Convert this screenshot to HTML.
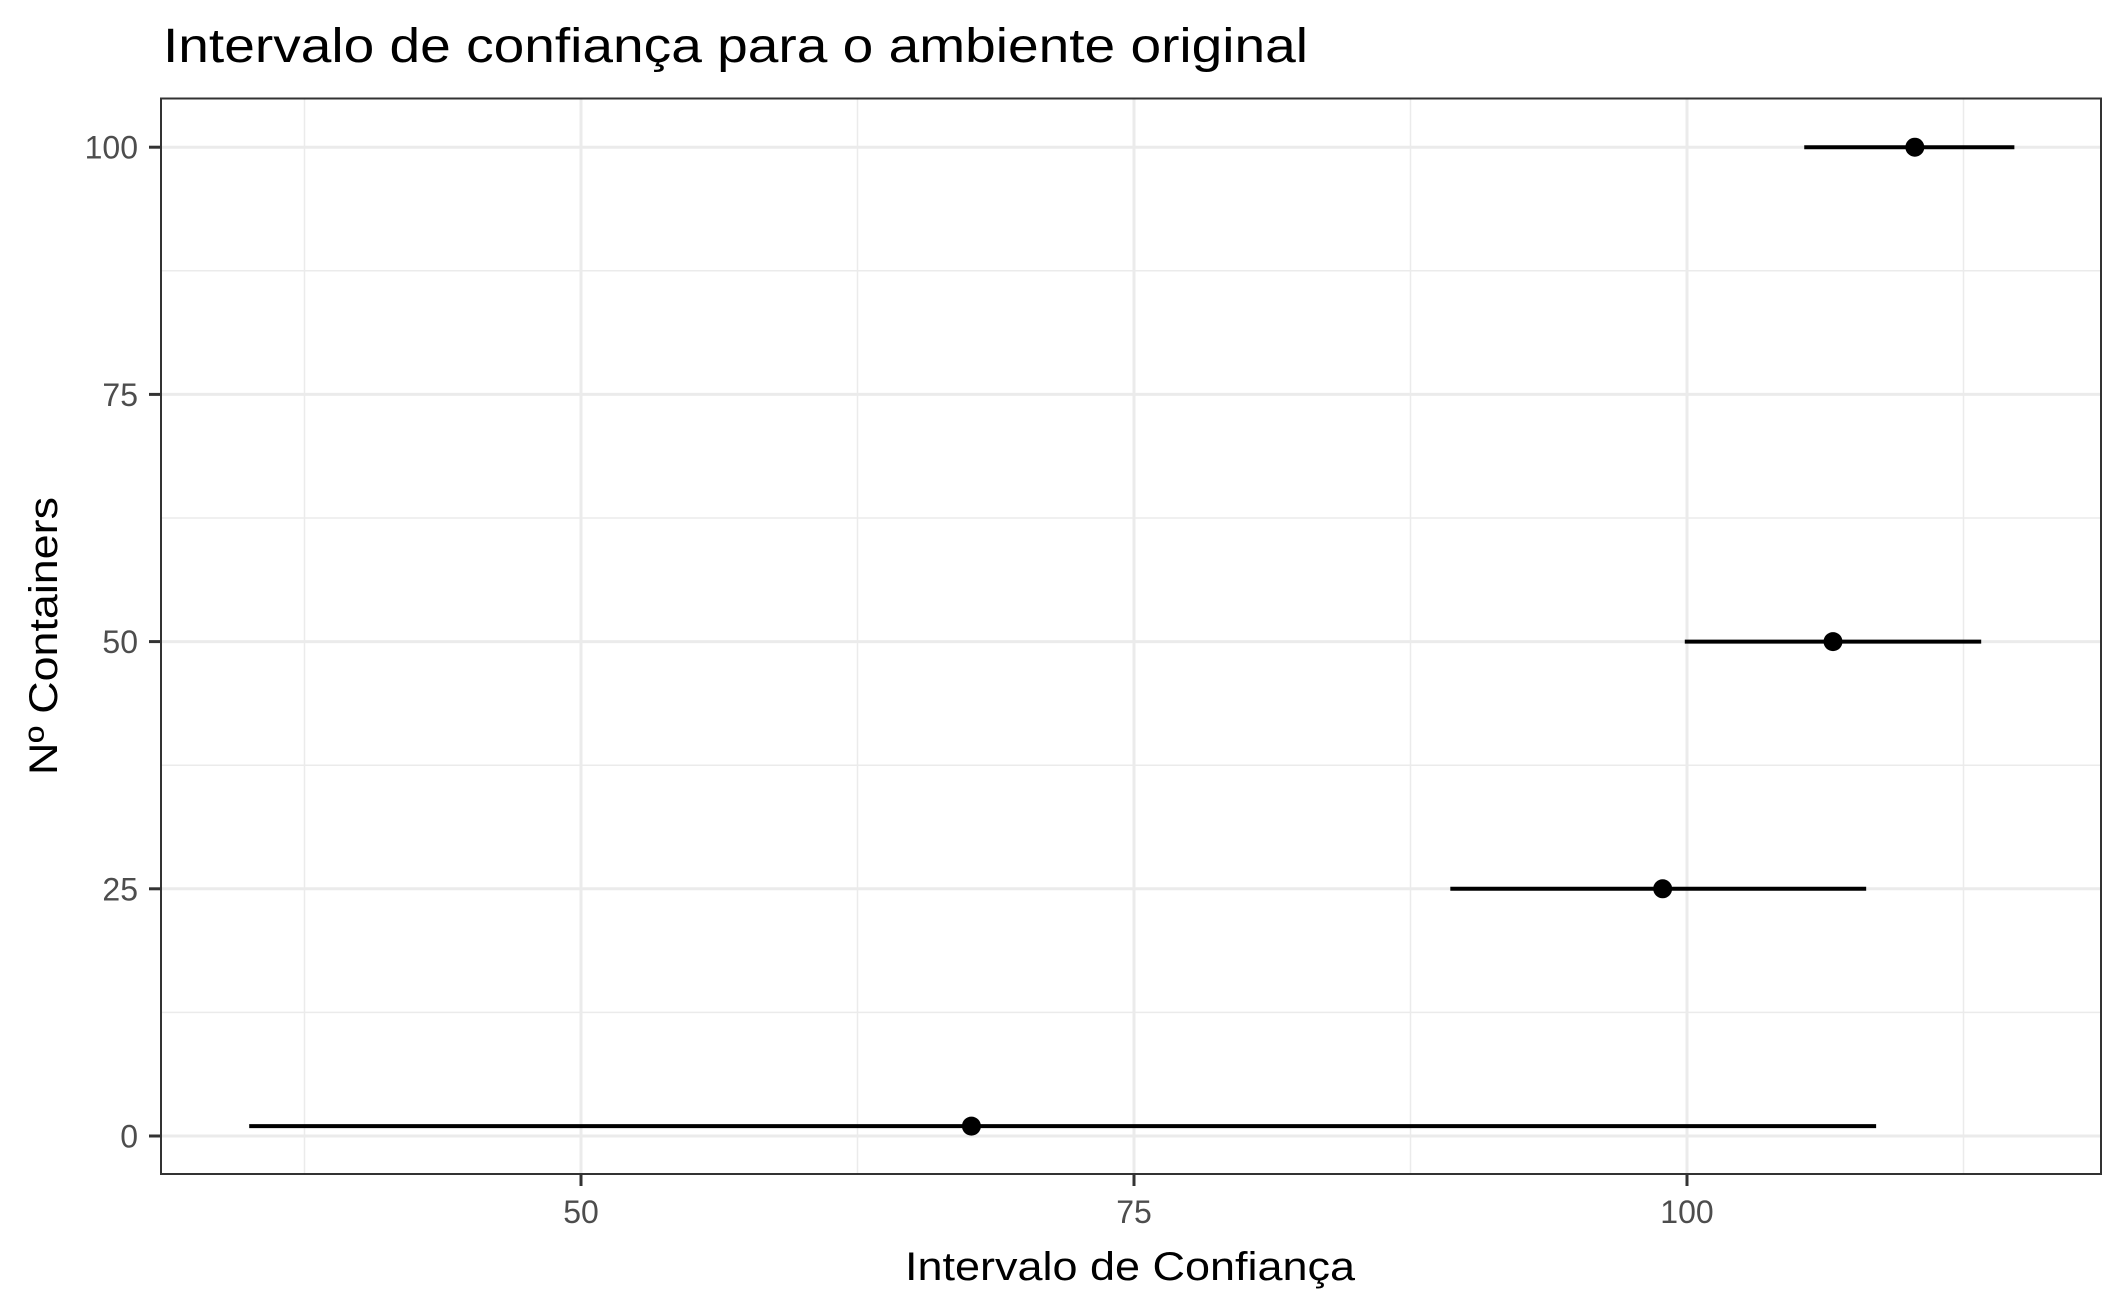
<!DOCTYPE html>
<html><head><meta charset="utf-8"><style>
html,body{margin:0;padding:0;background:#fff}
svg{display:block;font-family:"Liberation Sans",Arial,sans-serif}
</style></head><body>
<svg id="chart" width="2125" height="1312" viewBox="0 0 2125 1312">
<rect x="0" y="0" width="2125" height="1312" fill="#fff"/>
<text x="163" y="62" font-size="48" fill="#000" textLength="1145" lengthAdjust="spacingAndGlyphs">Intervalo de confiança para o ambiente original</text>
<g id="grid"></g>
<g id="marks"></g>
<rect x="161" y="98.5" width="1940" height="1075.5" fill="none" stroke="#333" stroke-width="2"/>
<g id="axes"></g>
<text x="1130" y="1280" font-size="40" text-anchor="middle" fill="#000" textLength="450" lengthAdjust="spacingAndGlyphs">Intervalo de Confiança</text>
<text transform="translate(57,636) rotate(-90)" font-size="40" text-anchor="middle" fill="#000" textLength="278" lengthAdjust="spacingAndGlyphs">Nº Containers</text>
</svg>
<script>
const containers = [0, 25, 50, 100];
const yPos = [1, 25, 50, 100];
const lower = [35.0, 89.3, 99.9, 105.3];
const mean = [67.65, 98.9, 106.6, 110.3];
const upper = [108.55, 108.1, 113.3, 114.8];
const xTicks = [50, 75, 100];
const xMinor = [37.5, 62.5, 87.5, 112.5];
const yTicks = [0, 25, 50, 75, 100];
const yMinor = [12.5, 37.5, 62.5, 87.5];

const PL = 161, PR = 2101, PT = 98.5, PB = 1174;
function xs(v){ return 581 + (v - 50) * 22.12; }
function ys(v){ return 1136 - v * 9.888; }
const NS = 'http://www.w3.org/2000/svg';
function mk(tag, attrs, parent){ const e = document.createElementNS(NS, tag); for (const k in attrs) e.setAttribute(k, attrs[k]); parent.appendChild(e); return e; }
const grid = document.getElementById('grid'), marks = document.getElementById('marks'), axes = document.getElementById('axes');

xMinor.forEach(v => { const l = mk('line', {x1:xs(v), x2:xs(v), y1:PT, y2:PB, stroke:'#ebebeb', 'stroke-width':1.5}, grid);
  
   });
yMinor.forEach(v => { const l = mk('line', {x1:PL, x2:PR, y1:ys(v), y2:ys(v), stroke:'#ebebeb', 'stroke-width':1.5}, grid);
  
   });
xTicks.forEach(v => { const l = mk('line', {x1:xs(v), x2:xs(v), y1:PT, y2:PB, stroke:'#ebebeb', 'stroke-width':3}, grid);
  
  
  const t = mk('line', {x1:xs(v), x2:xs(v), y1:PB, y2:PB+12, stroke:'#333', 'stroke-width':3}, axes);
  
  
  const tx = mk('text', {x:xs(v), y:1223, 'font-size':32, fill:'#4d4d4d', 'text-anchor':'middle'}, axes);
  tx.textContent = v;
  
   });
yTicks.forEach(v => { const l = mk('line', {x1:PL, x2:PR, y1:ys(v), y2:ys(v), stroke:'#ebebeb', 'stroke-width':3}, grid);
  
  
  const t = mk('line', {x1:PL-12, x2:PL, y1:ys(v), y2:ys(v), stroke:'#333', 'stroke-width':3}, axes);
  
  
  const tx = mk('text', {x:138, y:ys(v)+11.5, 'font-size':32, fill:'#4d4d4d', 'text-anchor':'end'}, axes);
  tx.textContent = v;
  
   });

containers.forEach((c, i) => {
  const y = ys(yPos[i]);
  const l = mk('line', {x1:xs(lower[i]), x2:xs(upper[i]), y1:y, y2:y, stroke:'#000', 'stroke-width':4}, marks);
  
  
  const p = mk('circle', {cx:xs(mean[i]), cy:y, r:9.5, fill:'#000'}, marks);
  
  
});
</script>
</body></html>
